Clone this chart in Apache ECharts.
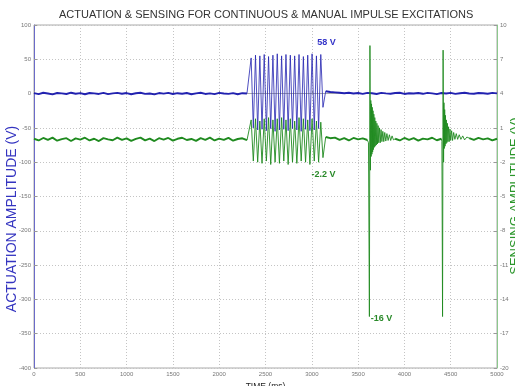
<!DOCTYPE html>
<html>
<head>
<meta charset="utf-8">
<script src="https://cdn.jsdelivr.net/npm/echarts@6/dist/echarts.min.js"></script>
<style>
  html, body { margin: 0; padding: 0; background: #fff; }
  #chart { width: 515px; height: 386px; }
</style>
</head>
<body>
<div id="chart"></div>
<script>
// scope traces (ms / volts)
const SAMPLE_MS = 50;
const BURST_START_MS = 2345;
const BURST_HALF_MS = 23.5;

const xTicks = [0, 500, 1000, 1500, 2000, 2500, 3000, 3500, 4000, 4500, 5000];
const leftTicks = [-400, -350, -300, -250, -200, -150, -100, -50, 0, 50, 100];
const rightTicks = [-20, -17, -14, -11, -8, -5, -2, 1, 4, 7, 10];

// actuation (left axis, V)
const actuationPre = [0.6, -0.8, 1.2, 0.2, -1.1, 0.9, 0.4, -0.6, 1.3, -0.2,
  0.7, -1.0, 0.9, 0.3, -0.5, 1.1, -0.8, 0.4, 1.0, -0.3,
  0.8, -0.9, 0.5, 1.2, -0.4, 0.2, -1.2, 0.8, 0.0, 1.1,
  -0.6, 0.6, -0.2, 0.9, -1.0, 0.4, 1.2, -0.5, 0.3, -0.8,
  1.0, 0.1, -0.4, 0.7, -0.9, 0.6, 0.2];
const actuationBurst = [52, -50, 56, -53, 55, -52, 57, -54, 54, -51, 56, -55, 58, -53, 55, -52, 57,
  -54, 56, -51, 55, -53, 57, -55, 54, -52, 56, -54, 58, -53, 55, -51, 57, -20];
const actuationPost = [3.5, 2.4, 1.8, 1.2, 0.6, 1.3, 0.2, 0.9, -0.4, 1.1,
  0.5, -0.6, 1.0, 0.3, -0.2, 0.8, 1.2, -0.5, 0.6, 0.1,
  0.9, -0.3, 1.1, 0.4, -0.7, 0.8, 0.2, 1.0, -0.4, 0.6,
  1.2, 0.1, -0.3, 0.9, 0.5, -0.2, 1.0, 0.4];
const ACT_POST_START_MS = 3150;

// sensing (right axis, V)
const sensingPre = [0.05, -0.1, 0.12, -0.05, 0.15, -0.12, 0.02, 0.1, -0.15, 0.08,
  -0.02, 0.14, -0.1, 0.05, -0.15, 0.11, 0.0, -0.08, 0.15, -0.05,
  0.09, -0.13, 0.04, 0.15, -0.09, 0.06, -0.15, 0.1, -0.03, 0.12,
  -0.11, 0.05, 0.14, -0.06, 0.03, -0.14, 0.1, -0.04, 0.15, -0.1,
  0.06, -0.05, 0.13, -0.12, 0.03, 0.09, -0.08];
const sensingBurst = [1.7, -1.9, 1.8, -2.0, 1.6, -2.1, 1.8, -1.9, 1.9, -2.2, 1.7, -2.0, 1.8, -2.1, 1.9, -1.9, 1.7,
  -2.2, 1.8, -2.0, 1.6, -2.1, 1.9, -1.9, 1.8, -2.0, 1.7, -2.2, 1.8, -1.9, 1.6, -2.0, 1.5, -1.6];
const sensingMid = [0.2, 0.1, 0.15, -0.05, 0.1, -0.1, 0.12, 0.0, 0.08, -0.06];
const SENS_MID_START_MS = 3150;
const sensingImpulse1 = [[3612, -0.3], [3622, -15.5], [3628, 8.2], [3633, -2.7], [3637, 3.4], [3641, -1.5],
  [3645, 3.1], [3649, -1.3], [3653, 2.8], [3657, -1.1], [3661, 2.5], [3665, -0.9], [3670, 2.2], [3675, -0.7],
  [3680, 1.9], [3685, -0.6], [3691, 1.6], [3697, -0.5], [3703, 1.4], [3709, -0.4], [3716, 1.2], [3723, -0.3],
  [3731, 1.0], [3739, -0.3], [3748, 0.85], [3757, -0.2], [3767, 0.7], [3777, -0.2], [3788, 0.6], [3799, -0.15],
  [3811, 0.5], [3824, -0.1], [3838, 0.4], [3852, -0.1], [3867, 0.3], [3882, -0.05]];
const sensingBetween = [0.05, -0.1, 0.12, -0.05, 0.1, -0.12, 0.06, 0.0, 0.14, -0.08, 0.05];
const SENS_BETWEEN_START_MS = 3900;
const sensingImpulse2 = [[4405, -0.2], [4412, -15.5], [4418, 7.8], [4423, -2.0], [4427, 3.2], [4431, -0.8],
  [4435, 2.6], [4439, -0.6], [4443, 2.1], [4448, -0.4], [4453, 1.7], [4458, -0.3], [4464, 1.4], [4470, -0.2],
  [4477, 1.1], [4484, -0.2], [4492, 0.9], [4500, -0.1], [4510, 0.75], [4520, -0.1], [4532, 0.6], [4545, 0.0],
  [4560, 0.5], [4575, 0.0], [4592, 0.4], [4610, 0.0], [4630, 0.3], [4650, -0.05], [4675, 0.2]];
const sensingTail = [0.1, -0.05, 0.12, 0.0, 0.08, -0.1, 0.05];
const SENS_TAIL_START_MS = 4700;

// annotation texts with their [ms, volts] anchor
const actuationNotes = [{ name: '58 V', coord: [3159, 75] }];
const sensingNotes = [{ name: '-2.2 V', coord: [3127, -3.1] }, { name: '-16 V', coord: [3753, -15.7] }];

const BLUE = '#2222b0';
const GREEN = '#1f8a1f';
const FONT = '"Liberation Sans", Arial, sans-serif';

const sampled = (t0, step, values) => values.map((v, i) => [t0 + i * step, v]);
const first = (pts) => pts[0];
const last = (pts) => pts[pts.length - 1];
const gap = (a, b) => [(last(a)[0] + first(b)[0]) / 2, null];

// quiet stretches (drawn thicker, like the noisy band) and events (thin)
const actPre = sampled(0, SAMPLE_MS, actuationPre);
const actBurst = sampled(BURST_START_MS, BURST_HALF_MS, actuationBurst);
const actPost = sampled(ACT_POST_START_MS, SAMPLE_MS, actuationPost);

const senPre = sampled(0, SAMPLE_MS, sensingPre);
const senBurst = sampled(BURST_START_MS, BURST_HALF_MS, sensingBurst);
const senMid = sampled(SENS_MID_START_MS, SAMPLE_MS, sensingMid);
const senBetween = sampled(SENS_BETWEEN_START_MS, SAMPLE_MS, sensingBetween);
const senTail = sampled(SENS_TAIL_START_MS, SAMPLE_MS, sensingTail);

const actuationQuiet = [...actPre, gap(actPre, actPost), ...actPost];
const actuationEvent = [last(actPre), ...actBurst, first(actPost)];

const sensingQuiet = [...senPre, gap(senPre, senMid), ...senMid, gap(senMid, senBetween), ...senBetween,
  gap(senBetween, senTail), ...senTail];
const sensingEvent = [last(senPre), ...senBurst, first(senMid), gap(senMid, senBetween),
  last(senMid), ...sensingImpulse1, first(senBetween), gap(senBetween, senTail),
  last(senBetween), ...sensingImpulse2, first(senTail)];

const noteStyle = (color) => ({
  symbol: 'rect',
  symbolSize: 1,
  itemStyle: { color: 'transparent' },
  label: { show: true, position: 'inside', formatter: '{b}', color, fontWeight: 'bold', fontSize: 9, fontFamily: FONT }
});

const tickLabel = { color: '#777', fontSize: 6, fontFamily: FONT, formatter: (v) => String(v) };
const dotted = { show: true, lineStyle: { color: '#c4c4c4', type: [1, 2], width: 1 } };

const line = (name, yAxisIndex, data, color, width, z) => ({
  name, type: 'line', yAxisIndex, data, showSymbol: false, symbol: 'none',
  connectNulls: false, lineStyle: { color, width }, z
});

const chart = echarts.init(document.getElementById('chart'), null, { renderer: 'canvas' });
chart.setOption({
  animation: false,
  textStyle: { fontFamily: FONT },
  title: {
    text: 'ACTUATION & SENSING FOR CONTINUOUS & MANUAL IMPULSE EXCITATIONS',
    left: 54,
    top: 4,
    textStyle: { fontSize: 11, fontWeight: 'normal', color: '#333', fontFamily: FONT }
  },
  grid: {
    left: 34, right: 18, top: 25, bottom: 18,
    outerBoundsMode: 'none',
    show: true, borderColor: '#aaa', borderWidth: 1
  },
  xAxis: {
    type: 'value',
    min: 0,
    max: 5000,
    interval: 500,
    name: 'TIME (ms)',
    nameLocation: 'middle',
    nameGap: 10,
    nameTextStyle: { fontSize: 8.5, color: '#222', fontFamily: FONT },
    axisLine: { lineStyle: { color: '#aaa' } },
    axisTick: { inside: true, length: 3, lineStyle: { color: '#999' } },
    axisLabel: { ...tickLabel, margin: 3, customValues: xTicks },
    splitLine: dotted
  },
  yAxis: [
    {
      type: 'value',
      min: -400,
      max: 100,
      interval: 50,
      axisLine: { show: true, lineStyle: { color: '#6b6bc8' } },
      axisTick: { show: true, inside: true, length: 3, lineStyle: { color: '#999' } },
      axisLabel: { ...tickLabel, margin: 3, customValues: leftTicks },
      splitLine: dotted
    },
    {
      type: 'value',
      min: -20,
      max: 10,
      position: 'right',
      axisLine: { show: true, lineStyle: { color: '#8cc88c' } },
      axisTick: { show: true, inside: true, length: 3, customValues: rightTicks, lineStyle: { color: '#999' } },
      axisLabel: { ...tickLabel, margin: 3, customValues: rightTicks },
      splitLine: { show: false }
    }
  ],
  graphic: [
    {
      type: 'text',
      x: 12,
      y: 219,
      rotation: Math.PI / 2,
      style: { text: 'ACTUATION AMPLITUDE (V)', fill: '#3434c0', fontSize: 14, fontFamily: FONT, textAlign: 'center', textVerticalAlign: 'middle' }
    },
    {
      type: 'text',
      x: 515,
      y: 196,
      rotation: Math.PI / 2,
      style: { text: 'SENSING AMPLITUDE (V)', fill: '#2a962a', fontSize: 13, fontFamily: FONT, textAlign: 'center', textVerticalAlign: 'middle' }
    }
  ],
  series: [
    { ...line('Actuation', 0, actuationQuiet, BLUE, 1.9, 2), markPoint: { ...noteStyle('#3434c8'), data: actuationNotes } },
    line('Actuation burst', 0, actuationEvent, BLUE, 0.8, 2),
    { ...line('Sensing', 1, sensingQuiet, GREEN, 1.9, 3), markPoint: { ...noteStyle('#2a8a2a'), data: sensingNotes } },
    line('Sensing events', 1, sensingEvent, GREEN, 0.9, 3)
  ]
});
</script>
</body>
</html>
